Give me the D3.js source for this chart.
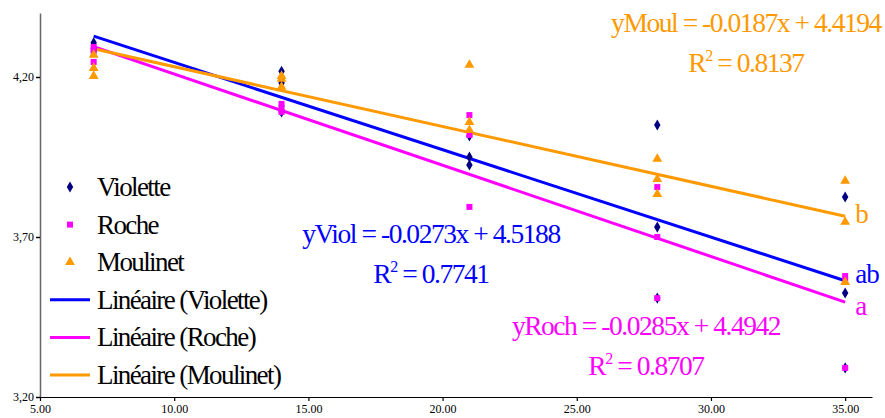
<!DOCTYPE html>
<html>
<head>
<meta charset="utf-8">
<script src="https://cdn.jsdelivr.net/npm/d3@7/dist/d3.min.js"></script>
<style>
  html, body { margin: 0; padding: 0; background: #fff; }
  svg { display: block; }
</style>
</head>
<body>
<svg id="chart" width="885" height="418"></svg>
<script>
// Sampling days and replicate measurements per site
const days = [7, 14, 21, 28, 35];
const violette = [
  [4.307, 4.290, 4.280],
  [4.218, 4.181, 4.091],
  [4.016, 3.950, 3.925],
  [4.050, 3.731, 3.509],
  [3.825, 3.525, 3.291]
];
const roche = [
  [4.294, 4.280, 4.247],
  [4.116, 4.103, 4.091],
  [4.081, 4.019, 3.794],
  [3.856, 3.700, 3.509],
  [3.578, 3.563, 3.291]
];
const moulinet = [
  [4.269, 4.228, 4.203],
  [4.203, 4.194, 4.169],
  [4.238, 4.059, 4.034],
  [3.944, 3.881, 3.834],
  [3.875, 3.747, 3.559]
];
// Linear fits: slope, intercept, R²
const fitViolette = { slope: -0.0273, intercept: 4.5188, r2: 0.7741 };
const fitRoche    = { slope: -0.0285, intercept: 4.4942, r2: 0.8707 };
const fitMoulinet = { slope: -0.0187, intercept: 4.4194, r2: 0.8137 };
const xTicks = [5, 10, 15, 20, 25, 30, 35];
const yTicks = [3.2, 3.7, 4.2];
const groupLetters = ["ab", "a", "b"];

const SERIF = "Liberation Serif";

const svg = d3.select("#chart");
const margin = { left: 40, top: 13, right: 13, bottom: 21 };
const W = 885, H = 418;

const x = d3.scaleLinear().domain([5, 36]).range([margin.left, W - margin.right]);
const y = d3.scaleLinear().domain([3.2, 4.4]).range([H - margin.bottom, margin.top]);

// Axes
const yAxis = svg.append("g")
  .attr("transform", `translate(${margin.left},0)`)
  .call(d3.axisLeft(y).tickValues(yTicks).tickSize(4).tickSizeOuter(0)
    .tickFormat(d => d.toFixed(2).replace(".", ",")));
yAxis.attr("font-family", SERIF);
yAxis.select(".domain").attr("stroke", "#666").attr("stroke-width", 1.5);
yAxis.selectAll(".tick line").attr("stroke", "#000").attr("stroke-width", 1.5);
yAxis.selectAll(".tick text").attr("font-size", 12).attr("x", -6).attr("fill", "#000");

const xAxis = svg.append("g")
  .attr("transform", `translate(0,${H - margin.bottom})`)
  .call(d3.axisBottom(x).tickValues(xTicks).tickSize(4).tickSizeOuter(0)
    .tickFormat(d => d.toFixed(2)));
xAxis.attr("font-family", SERIF);
xAxis.select(".domain").attr("stroke", "#000").attr("stroke-width", 1.2);
xAxis.selectAll(".tick line").attr("stroke", "#000").attr("stroke-width", 1.2);
xAxis.selectAll(".tick text").attr("font-size", 12).attr("y", 7).attr("fill", "#000");

const series = [
  { name: "Violette", data: violette, fit: fitViolette, pt: "#000080", line: "#0000FF", sym: d3.symbolDiamond, size: 36 },
  { name: "Roche", data: roche, fit: fitRoche, pt: "#FF00FF", line: "#FF00FF", sym: d3.symbolSquare, size: 36 },
  { name: "Moulinet", data: moulinet, fit: fitMoulinet, pt: "#FF9900", line: "#FF9900", sym: d3.symbolTriangle, size: 42 }
];

// Regression lines
const x0 = d3.min(days), x1 = d3.max(days);
series.forEach(s => {
  svg.append("line")
    .attr("x1", x(x0)).attr("y1", y(s.fit.slope * x0 + s.fit.intercept))
    .attr("x2", x(x1)).attr("y2", y(s.fit.slope * x1 + s.fit.intercept))
    .attr("stroke", s.line).attr("stroke-width", 3);
});

// Measurement points
series.forEach(s => {
  const pts = [];
  s.data.forEach((reps, i) => reps.forEach(v => pts.push([days[i], v])));
  svg.append("g").selectAll("path").data(pts).join("path")
    .attr("d", d3.symbol().type(s.sym).size(s.size))
    .attr("transform", d => `translate(${x(d[0])},${y(d[1])})`)
    .attr("fill", s.pt);
});

// Group letters at the last day
const letterPos = [
  { t: groupLetters[0], c: "#0000FF", v: fitViolette.slope * 35 + fitViolette.intercept, dy: 2 },
  { t: groupLetters[1], c: "#FF00FF", v: fitRoche.slope * 35 + fitRoche.intercept, dy: 13 },
  { t: groupLetters[2], c: "#FF9900", v: fitMoulinet.slope * 35 + fitMoulinet.intercept, dy: 7 }
];
letterPos.forEach(l => {
  svg.append("text").attr("x", x(35) + 10).attr("y", y(l.v) + l.dy)
    .attr("font-family", SERIF).attr("font-size", 27).attr("letter-spacing", -0.8)
    .attr("fill", l.c).text(l.t);
});

// Equation labels
function eqLabel(prefix, fit, color, cx, by) {
  const sign = fit.intercept >= 0 ? " + " : " - ";
  svg.append("text").attr("x", cx).attr("y", by).attr("text-anchor", "middle")
    .attr("font-family", SERIF).attr("font-size", 27.5).attr("fill", color).attr("letter-spacing", -1.45)
    .text(`${prefix} = ${fit.slope.toFixed(4)}x${sign}${Math.abs(fit.intercept).toFixed(4)}`);
  const r = svg.append("text").attr("x", cx).attr("y", by + 40).attr("text-anchor", "middle")
    .attr("font-family", SERIF).attr("font-size", 27.5).attr("fill", color).attr("letter-spacing", -1.45);
  r.append("tspan").text("R");
  r.append("tspan").attr("dy", -11).attr("font-size", 16).text("2");
  r.append("tspan").attr("dy", 11).text(` = ${fit.r2.toFixed(4)}`);
}
eqLabel("yMoul", fitMoulinet, "#FF9900", 746, 32);
eqLabel("yViol", fitViolette, "#0000FF", 431, 243);
eqLabel("yRoch", fitRoche, "#FF00FF", 646, 335);

// Legend
const legend = svg.append("g").attr("font-family", SERIF);
const rowY = d => 187 + d * 37.6;
series.forEach((s, i) => {
  legend.append("path").attr("d", d3.symbol().type(s.sym).size(s.size))
    .attr("transform", `translate(70,${rowY(i)})`).attr("fill", s.pt);
  legend.append("text").attr("x", 97).attr("y", rowY(i) + 9)
    .attr("font-size", 27).attr("letter-spacing", -1.6).attr("fill", "#000").text(s.name);
});
series.forEach((s, i) => {
  const yy = rowY(i + 3);
  legend.append("line").attr("x1", 50).attr("x2", 90).attr("y1", yy).attr("y2", yy)
    .attr("stroke", s.line).attr("stroke-width", 3);
  legend.append("text").attr("x", 97).attr("y", yy + 9)
    .attr("font-size", 27).attr("letter-spacing", -1.6).attr("fill", "#000").text(`Linéaire (${s.name})`);
});
</script>
</body>
</html>
